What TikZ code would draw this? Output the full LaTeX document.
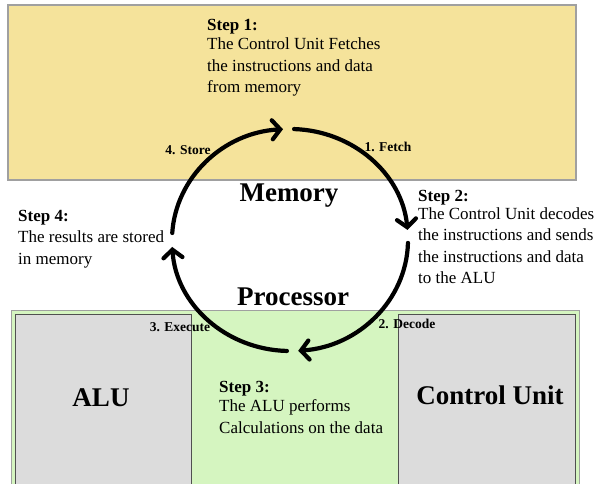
\documentclass[tikz,border=0pt]{standalone}
\usepackage{fontspec}
\setmainfont{Liberation Serif}
\usetikzlibrary{arrows.meta,calc}

\definecolor{memfill}{HTML}{F5E39B}
\definecolor{cpufill}{HTML}{D5F5C0}
\definecolor{unitfill}{HTML}{DCDCDC}
\definecolor{paneedge}{HTML}{A0A0A0}
\definecolor{unitedge}{HTML}{505050}

\tikzset{
  pane/.style={draw=paneedge, line width=1.5pt},
  unitbox/.style={draw=unitedge, line width=1pt, fill=unitfill},
  steptext/.style={anchor=north west, inner sep=0pt, align=left,
    font=\fontsize{17}{21.5}\selectfont},
  bigtitle/.style={anchor=base, inner sep=0pt,
    font=\fontsize{27}{30}\selectfont\bfseries},
  phase/.style={anchor=base, inner sep=0pt,
    font=\fontsize{13.5}{15}\selectfont\bfseries},
  cycle/.style={line width=4.2pt, line cap=round,
    -{Straight Barb[length=8pt,width=19pt,line cap=round]}}
}

\begin{document}
\begin{tikzpicture}[x=1pt,y=1pt]
\useasboundingbox (0,0) rectangle (599,484);
\fill[white] (0,0) rectangle (599,484);

% memory band and processor band
\draw[pane, fill=memfill] (8,304) rectangle (576,479);
\draw[pane, line width=1pt, fill=cpufill] (11,-5) rectangle (579,173);
\draw[unitbox] (15,-5) rectangle (191,169);
\draw[unitbox] (398,-5) rectangle (575,169);

% titles
\node[bigtitle] (mem) at (289,282) {Memory};
\node[bigtitle] (cpu) at (293,178) {Processor};
\node[bigtitle] (alu) at (101,77) {ALU};
\node[bigtitle] (cu)  at (490,79) {Control Unit};

% step descriptions
\node[steptext] (s1) at (207,464.5)
  {\textbf{Step 1:}\\[-2.5pt]The Control Unit Fetches\\the instructions and data\\from memory};
\node[steptext] (s2) at (418,293.5)
  {\textbf{Step 2:}\\[-4pt]The Control Unit decodes\\the instructions and sends\\the instructions and data\\to the ALU};
\node[steptext] (s4) at (18,273.5)
  {\textbf{Step 4:}\\[-0.5pt]The results are stored\\in memory};
\node[steptext] (s3) at (219,102.5)
  {\textbf{Step 3:}\\[-2.5pt]The ALU performs\\Calculations on the data};

% phase labels
\node[phase] (store)   at (188,329) {4. Store};
\node[phase] (fetch)   at (388,332) {1. Fetch};
\node[phase] (execute) at (180,152) {3. Execute};
\node[phase] (decode)  at (407,155) {2. Decode};

% instruction cycle
\coordinate (c) at (290,244);
\coordinate (fetchA)   at ($(c)+(88:118pt and 111pt)$);
\coordinate (decodeA)  at ($(c)+(-1.5:118pt and 111pt)$);
\coordinate (executeA) at ($(c)+(-91.5:118pt and 111pt)$);
\coordinate (storeA)   at ($(c)+(176.4:118pt and 111pt)$);

\draw[cycle] (fetchA)   arc[start angle=88,    end angle=5.2,   x radius=118pt, y radius=111pt];
\draw[cycle] (decodeA)  arc[start angle=-1.5,  end angle=-86,   x radius=118pt, y radius=111pt];
\draw[cycle] (executeA) arc[start angle=-91.5, end angle=-176.4,x radius=118pt, y radius=111pt];
\draw[cycle] (storeA)   arc[start angle=176.4, end angle=93.4,  x radius=118pt, y radius=111pt];
\end{tikzpicture}
\end{document}
